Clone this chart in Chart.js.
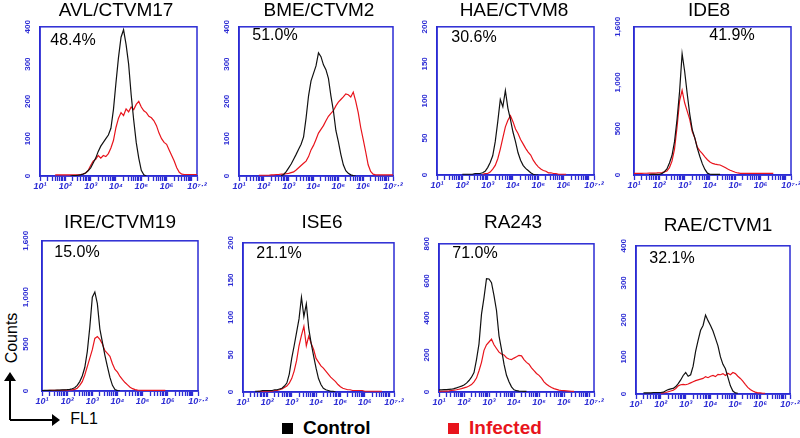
<!DOCTYPE html>
<html>
<head>
<meta charset="utf-8">
<script src="https://cdn.jsdelivr.net/npm/chart.js@4.4.1/dist/chart.umd.min.js"></script>
<style>
  body { margin: 0; background: #fff; width: 800px; height: 438px; overflow: hidden; position: relative;
         font-family: "Liberation Sans", Arial, sans-serif; }
  canvas { position: absolute; }
  .lbl { position: absolute; transform: translate(-50%, -50%); white-space: nowrap; color: #000; }
  .title { font-size: 19px; }
  .pct { font-size: 16px; }
  .leg { position: absolute; font-size: 19px; font-weight: bold; white-space: nowrap; }
  .leg span { display: inline-block; width: 11px; height: 11px; margin-right: 10px; vertical-align: 0px; }
</style>
</head>
<body>
<svg width="800" height="438" style="position:absolute;left:0;top:0">
  <path d="M10 420 V378 M10 420 H53" stroke="#000" stroke-width="2" fill="none"/>
  <path d="M4 381 L10 372 L16 381 Z M52 414 L60 420 L52 426 Z" fill="#000"/>
</svg>
<div class="lbl" style="left:12px;top:338px;transform:translate(-50%,-50%) rotate(-90deg);font-size:16px">Counts</div>
<div class="lbl" style="left:84px;top:419px;font-size:16px">FL1</div>
<div class="leg" style="left:282px;top:417px;color:#000"><span style="background:#000"></span>Control</div>
<div class="leg" style="left:448px;top:417px;color:#e8141c"><span style="background:#e8141c"></span>Infected</div>

<script>
const N = null;

// log10 fluorescence bins (FL1 decades)
const bins = [
  1.0, 1.1, 1.2, 1.3, 1.4, 1.5, 1.6, 1.7, 1.8, 1.9,
  2.0, 2.1, 2.2, 2.3, 2.4, 2.5, 2.6, 2.7, 2.8, 2.9,
  3.0, 3.1, 3.2, 3.3, 3.4, 3.5, 3.6, 3.7, 3.8, 3.9,
  4.0, 4.1, 4.2, 4.3, 4.4, 4.5, 4.6, 4.7, 4.8, 4.9,
  5.0, 5.1, 5.2, 5.3, 5.4, 5.5, 5.6, 5.7, 5.8, 5.9,
  6.0, 6.1, 6.2, 6.3, 6.4, 6.5, 6.6, 6.7, 6.8, 6.9,
  7.0, 7.1, 7.2
];

const cellLines = ['AVL/CTVM17', 'BME/CTVM2', 'HAE/CTVM8', 'IDE8', 'IRE/CTVM19', 'ISE6', 'RA243', 'RAE/CTVM1'];
const percents = ['48.4%', '51.0%', '30.6%', '41.9%', '15.0%', '21.1%', '71.0%', '32.1%'];
const yMax = [400, 400, 200, 1600, 1600, 200, 800, 400];
const yTicks = [
  [0, 100, 200, 300, 400], [0, 100, 200, 300, 400], [0, 50, 100, 150, 200], [0, 500, 1000, 1600],
  [0, 500, 1000, 1600], [0, 50, 100, 150, 200], [0, 200, 400, 600, 800], [0, 100, 200, 300, 400]
];
const xMajor = [1, 2, 3, 4, 5, 6, 7.2];
const xMajorLabels = ['10¹', '10²', '10³', '10⁴', '10⁵', '10⁶', '10⁷·²'];

const avlControl = [
  N, N, N, N, N, N, N, N, N, N,
  N, N, 0, 1, 1, 2, 3, 5, 8, 14,
  22, 35, 48, 66, 80, 90, 100, 110, 128, 178,
  250, 318, 372, 392, 352, 300, 218, 150, 90, 48,
  15, 3, 0, N, N, N, N, N, N, N,
  N, N, N, N, N, N, N, N, N, N,
  N, N, N
];
const avlInfected = [
  N, N, N, N, N, N, 3, 3, 3, 3,
  3, 3, 3, 3, 3, 3, 4, 5, 8, 15,
  28, 40, 45, 55, 48, 55, 52, 60, 75, 95,
  130, 155, 170, 162, 180, 172, 185, 178, 192, 200,
  185, 175, 170, 160, 156, 148, 135, 115, 100, 90,
  85, 70, 55, 40, 22, 10, 5, 4, 4, 4,
  4, 4, 4
];
const bmeControl = [
  N, N, N, N, N, N, N, N, N, N,
  N, N, N, N, N, N, N, 1, 4, 12,
  22, 32, 45, 58, 72, 85, 105, 155, 215, 255,
  275, 295, 330, 320, 298, 285, 262, 215, 175, 122,
  92, 58, 30, 14, 7, 3, 1, 0, N, N,
  N, N, N, N, N, N, N, N, N, N,
  N, N, N
];
const bmeInfected = [
  N, N, N, N, N, N, N, N, 2, 2,
  2, 2, 2, 3, 3, 4, 4, 5, 5, 6,
  7, 9, 11, 16, 22, 28, 34, 40, 52, 70,
  82, 98, 115, 125, 135, 148, 160, 168, 175, 188,
  198, 205, 212, 220, 218, 212, 225, 200, 170, 130,
  98, 65, 30, 12, 5, 3, 3, 3, 3, 3,
  3, 3, 3
];
const haeControl = [
  N, N, N, N, N, N, N, N, N, N,
  1, 1, 1, 1, 1, 2, 2, 2, 3, 5,
  10, 17, 26, 45, 72, 102, 92, 114, 90, 75,
  58, 45, 30, 20, 13, 9, 6, 3, 1, 0,
  0, N, N, N, N, N, N, N, N, N,
  N, N, N, N, N, N, N, N, N, N,
  N, N, N
];
const haeInfected = [
  N, N, N, N, N, N, N, N, N, N,
  N, N, N, N, N, N, N, N, 1, 2,
  2, 4, 8, 13, 22, 35, 50, 65, 74, 80,
  72, 62, 56, 48, 42, 36, 31, 27, 20, 15,
  11, 8, 6, 5, 3, 3, 2, 2, 1, 1,
  1, 1, N, N, N, N, N, N, N, N,
  N, N, N
];
const ide8Control = [
  N, N, N, N, N, N, 5, 6, 6, 7,
  7, 15, 35, 65, 130, 210, 360, 600, 900, 1310,
  1120, 880, 660, 490, 400, 290, 200, 120, 60, 20,
  8, 7, 7, 7, 7, N, N, N, N, N,
  N, N, N, N, N, N, N, N, N, N,
  N, N, N, N, N, N, N, N, N, N,
  N, N, N
];
const ide8Infected = [
  17, 17, 18, 18, 19, 19, 20, 20, 21, 22,
  24, 27, 33, 42, 80, 150, 280, 520, 800, 914,
  780, 690, 600, 470, 400, 300, 260, 230, 195, 165,
  140, 125, 118, 112, 108, 95, 80, 65, 52, 40,
  30, 22, 17, 17, 17, 17, 17, 17, 17, 17,
  17, 17, 17, 17, 17, 17, N, N, N, N,
  N, N, N
];
const ireControl = [
  5, 6, 6, 7, 8, 8, 9, 10, 11, 12,
  14, 18, 24, 35, 60, 100, 160, 250, 420, 680,
  1000, 1055, 930, 660, 520, 380, 260, 145, 60, 15,
  5, 0, N, N, N, N, N, N, N, N,
  N, N, N, N, N, N, N, N, N, N,
  N, N, N, N, N, N, N, N, N, N,
  N, N, N
];
const ireInfected = [
  5, 5, 5, 6, 6, 6, 7, 7, 8, 9,
  10, 11, 13, 18, 30, 60, 100, 170, 260, 350,
  440, 560, 580, 550, 500, 430, 400, 370, 290, 230,
  200, 155, 120, 90, 65, 40, 25, 15, 10, 8,
  7, 7, 7, 7, 7, 7, 7, 7, 7, 7,
  N, N, N, N, N, N, N, N, N, N,
  N, N, N
];
const ise6Control = [
  N, N, N, N, N, 1, 1, 1, 2, 2,
  2, 2, 2, 3, 3, 4, 5, 8, 12, 24,
  45, 62, 80, 98, 127, 101, 118, 85, 65, 48,
  32, 18, 10, 5, 3, 2, 1, 1, 0, N,
  N, N, N, N, N, N, N, N, N, N,
  N, N, N, N, N, N, N, N, N, N,
  N, N, N
];
const ise6Infected = [
  N, N, N, N, N, N, 1, 1, 1, 1,
  1, 1, 1, 2, 2, 3, 4, 6, 8, 12,
  18, 28, 42, 62, 76, 88, 62, 75, 65, 57,
  45, 40, 35, 32, 28, 24, 20, 17, 14, 10,
  7, 5, 4, 3, 3, 2, 2, 2, 2, 2,
  1, 1, 1, 1, 1, 1, 1, 1, N, N,
  N, N, N
];
const ra243Control = [
  12, 12, 13, 13, 14, 15, 18, 22, 27, 32,
  38, 48, 62, 80, 105, 175, 260, 420, 509, 612,
  610, 590, 520, 440, 303, 230, 150, 90, 55, 28,
  12, 7, 5, 4, 3, 3, N, N, N, N,
  N, N, N, N, N, N, N, N, N, N,
  N, N, N, N, N, N, N, N, N, N,
  N, N, N
];
const ra243Infected = [
  3, 4, 5, 5, 6, 8, 10, 12, 15, 18,
  22, 26, 32, 40, 55, 75, 115, 160, 225, 255,
  270, 285, 255, 235, 215, 205, 200, 185, 178, 175,
  183, 190, 198, 195, 175, 160, 150, 130, 115, 100,
  90, 75, 55, 42, 32, 24, 18, 14, 10, 8,
  7, 6, 5, 4, 3, N, N, N, N, N,
  N, N, N
];
const raeControl = [
  N, N, N, 3, 3, 3, 3, 4, 4, 4,
  4, 5, 9, 12, 14, 15, 20, 28, 38, 50,
  58, 48, 52, 75, 115, 145, 172, 185, 213, 198,
  185, 170, 150, 130, 100, 80, 68, 45, 22, 8,
  3, 2, N, N, N, N, N, N, N, N,
  N, N, N, N, N, N, N, N, N, N,
  N, N, N
];
const raeInfected = [
  N, N, N, N, N, N, N, N, N, N,
  2, 3, 4, 6, 8, 10, 15, 22, 25, 26,
  25, 27, 30, 33, 36, 38, 40, 42, 47, 44,
  48, 50, 47, 53, 52, 55, 50, 56, 52, 58,
  55, 48, 42, 35, 26, 18, 12, 8, 5, 3,
  3, 2, 2, N, N, N, N, N, N, N,
  N, N, N
];

const controls = [avlControl, bmeControl, haeControl, ide8Control, ireControl, ise6Control, ra243Control, raeControl];
const infected = [avlInfected, bmeInfected, haeInfected, ide8Infected, ireInfected, ise6Infected, ra243Infected, raeInfected];

// page layout: plot box (l, t, w, h), title centre, percent label centre
const layout = [
  { l: 40,  t: 20,  w: 157, h: 156, tx: 116, ty: 10,  px: 73,  py: 40 },
  { l: 239, t: 20,  w: 154, h: 156, tx: 319, ty: 10,  px: 275, py: 35 },
  { l: 437, t: 20,  w: 157, h: 155, tx: 514, ty: 10,  px: 474, py: 37 },
  { l: 634, t: 20,  w: 157, h: 155, tx: 709, ty: 10,  px: 732, py: 35 },
  { l: 42,  t: 234, w: 156, h: 157, tx: 120, ty: 222, px: 77,  py: 252 },
  { l: 243, t: 236, w: 151, h: 156, tx: 322, ty: 222, px: 279, py: 253 },
  { l: 439, t: 237, w: 155, h: 155, tx: 513, ty: 222, px: 475, py: 253 },
  { l: 636, t: 239, w: 154, h: 155, tx: 718, ty: 225, px: 672, py: 258 }
];

const BLUE = '#2b2bd4';
const RED = '#e8141c';
const PADL = 32, PADT = 4, PADR = 14, XH = 22;

// minor log ticks for each decade plus the labelled majors
const xTickValues = [];
for (let d = 1; d < 7.2; d++) {
  for (let k = 1; k < 10; k++) {
    const v = d + Math.log10(k);
    if (v <= 7.2) xTickValues.push(v);
  }
}
xTickValues.push(7.2);

const frame = {
  id: 'frame',
  beforeDatasetsDraw(chart) {
    const a = chart.chartArea, ctx = chart.ctx;
    ctx.save();
    ctx.strokeStyle = BLUE;
    ctx.lineWidth = 1.5;
    ctx.strokeRect(a.left, a.top, a.right - a.left, a.bottom - a.top);
    ctx.restore();
  }
};

function fmt(v) {
  return v >= 1000 ? v.toLocaleString('en-US') : String(v);
}

cellLines.forEach((name, i) => {
  const b = layout[i];
  const cv = document.createElement('canvas');
  const cw = b.w + PADL + PADR, ch = b.h + PADT + XH;
  cv.width = cw; cv.height = ch;
  cv.style.left = (b.l - PADL) + 'px';
  cv.style.top = (b.t - PADT) + 'px';
  cv.style.width = cw + 'px';
  cv.style.height = ch + 'px';
  document.body.appendChild(cv);

  const t = document.createElement('div');
  t.className = 'lbl title';
  t.style.left = b.tx + 'px'; t.style.top = b.ty + 'px';
  t.textContent = name;
  document.body.appendChild(t);

  const p = document.createElement('div');
  p.className = 'lbl pct';
  p.style.left = b.px + 'px'; p.style.top = b.py + 'px';
  p.textContent = percents[i];
  document.body.appendChild(p);

  const pts = arr => bins.map((x, j) => ({ x: x, y: arr[j] }));

  new Chart(cv, {
    type: 'line',
    data: {
      datasets: [
        { label: 'Control', data: pts(controls[i]), borderColor: '#111', borderWidth: 1.2, pointRadius: 0, tension: 0, spanGaps: false },
        { label: 'Infected', data: pts(infected[i]), borderColor: RED, borderWidth: 1.2, pointRadius: 0, tension: 0, spanGaps: false }
      ]
    },
    options: {
      responsive: false,
      animation: false,
      layout: { autoPadding: false, padding: { left: 0, top: PADT, right: PADR, bottom: 0 } },
      plugins: { legend: { display: false }, tooltip: { enabled: false } },
      scales: {
        x: {
          type: 'linear', min: 1, max: 7.2,
          afterBuildTicks: s => { s.ticks = xTickValues.map(v => ({ value: v })); },
          afterFit: s => { s.height = XH; },
          border: { color: BLUE, width: 1.5 },
          grid: { drawOnChartArea: false, drawTicks: true, color: BLUE, tickColor: BLUE, tickWidth: 1.3, tickLength: 5 },
          ticks: {
            autoSkip: false, maxRotation: 0, minRotation: 0, padding: 0, color: BLUE,
            font: { family: 'Liberation Sans', size: 9, style: 'italic', weight: 'bold' },
            callback: v => {
              const k = xMajor.findIndex(m => Math.abs(m - v) < 1e-6);
              return k >= 0 ? xMajorLabels[k] : '';
            }
          }
        },
        y: {
          min: 0, max: yMax[i],
          afterBuildTicks: s => { s.ticks = yTicks[i].map(v => ({ value: v })); },
          afterFit: s => { s.width = PADL; },
          border: { color: BLUE, width: 1.5 },
          grid: { drawOnChartArea: false, drawTicks: false },
          ticks: {
            minRotation: 90, maxRotation: 90, crossAlign: 'center', padding: 6, color: BLUE,
            font: { family: 'Liberation Sans', size: 8, weight: 'bold' },
            callback: v => fmt(v)
          }
        }
      }
    },
    plugins: [frame]
  });
});
</script>
</body>
</html>
